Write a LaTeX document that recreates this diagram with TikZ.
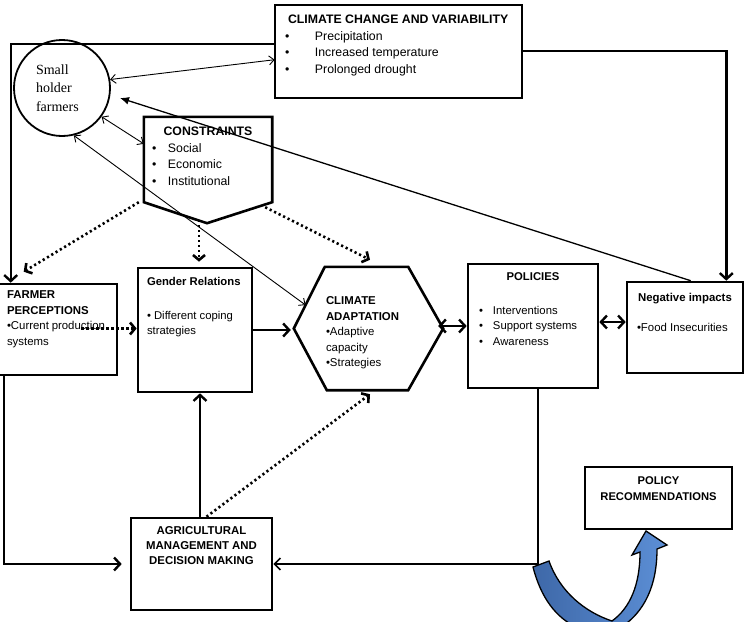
\documentclass[tikz,border=0pt]{standalone}
\usepackage{fontspec}
\setmainfont{Liberation Sans}
\newfontfamily\serifface{Liberation Serif}
\usetikzlibrary{arrows.meta,calc}
\newcommand{\bxt}[4]{\parbox[c][#2][t]{#1}{\vspace*{#3}#4}}
\definecolor{blueD}{RGB}{62,104,168}
\definecolor{blueL}{RGB}{92,143,214}
\begin{document}
\begin{tikzpicture}[x=1pt,y=-1pt,
  box/.style={draw, line width=2.6pt, inner sep=0pt},
  shapeline/.style={draw, line width=2.6pt, line join=miter},
  tarr/.style={line width=0.9pt, {Straight Barb[length=5pt,width=9pt]}-{Straight Barb[length=5pt,width=9pt]}},
  karr/.style={line width=2.4pt, -{Straight Barb[length=6pt,width=13pt]}},
  kboth/.style={line width=2.4pt, {Straight Barb[length=6pt,width=13pt]}-{Straight Barb[length=6pt,width=13pt]}},
  dots/.style={line width=2.6pt, dash pattern=on 2.2pt off 2.8pt, -{Straight Barb[length=5pt,width=12pt]}}]
\useasboundingbox (0,0) rectangle (744,629);
\clip (0,0) rectangle (744,629);

% nodes
\node[box, minimum width=247pt, minimum height=93pt] (cc) at (398.5,51.5)
 {\bxt{227pt}{93pt}{10pt}{\fontsize{12.3}{16.7}\selectfont\hspace*{3pt}\textbf{CLIMATE CHANGE AND VARIABILITY}\\
 \makebox[30pt][l]{•}Precipitation\\
 \makebox[30pt][l]{•}Increased temperature\\
 \makebox[30pt][l]{•}Prolonged drought}};

\node[circle, draw, line width=1.8pt, minimum size=96pt, inner sep=0pt] (circ) at (62,88)
 {\parbox{52pt}{\serifface\fontsize{14}{18.5}\selectfont Small\\ holder\\ farmers}};

\node[inner sep=0pt, minimum width=128pt, minimum height=85pt] (cons) at (208,159.5)
 {\bxt{112pt}{85pt}{10pt}{\fontsize{12.3}{16.7}\selectfont\makebox[\linewidth]{\textbf{CONSTRAINTS}}\\
 \makebox[16pt][l]{•}Social\\
 \makebox[16pt][l]{•}Economic\\
 \makebox[16pt][l]{•}Institutional}};
\draw[shapeline] (cons.south west) -- (cons.north west) -- (cons.north east) -- (cons.south east) -- ($(cons.south)+(-1,21)$) -- cycle;

\node[box, minimum width=122pt, minimum height=91pt] (farmer) at (56,329.5)
 {\bxt{98pt}{91pt}{7pt}{\fontsize{11.4}{15.5}\selectfont\textbf{FARMER}\\ \textbf{PERCEPTIONS}\\ •Current~production\\ systems}};

\node[box, minimum width=114pt, minimum height=124pt] (gender) at (195,330)
 {\bxt{96pt}{124pt}{9pt}{\fontsize{11.3}{15}\selectfont\textbf{Gender~Relations}\\[19pt] •~Different~coping\\ strategies}};

\node[inner sep=0pt, minimum width=149pt, minimum height=123pt] (adapt) at (368.5,328.5)
 {\bxt{85pt}{123pt}{30pt}{\fontsize{11.4}{15.4}\selectfont\textbf{CLIMATE}\\ \textbf{ADAPTATION}\\ •Adaptive\\ capacity\\ •Strategies}};
\coordinate (hexTL) at ($(adapt.north west)+(31,0)$);
\coordinate (hexTR) at ($(adapt.north east)+(-35,0)$);
\coordinate (hexBR) at ($(adapt.south east)+(-35,0)$);
\coordinate (hexBL) at ($(adapt.south west)+(33,0)$);
\draw[shapeline] (adapt.west) -- (hexTL) -- (hexTR) -- (adapt.east) -- (hexBR) -- (hexBL) -- cycle;

\node[box, minimum width=130pt, minimum height=124pt] (pol) at (533,326)
 {\bxt{108pt}{124pt}{9pt}{\fontsize{11.3}{15.5}\selectfont\makebox[\linewidth]{\textbf{POLICIES}}\\[18pt]
 \makebox[14pt][l]{•}Interventions\\
 \makebox[14pt][l]{•}Support systems\\
 \makebox[14pt][l]{•}Awareness}};

\node[box, minimum width=116pt, minimum height=91pt] (neg) at (685,327.5)
 {\bxt{96pt}{91pt}{11pt}{\fontsize{11.4}{15}\selectfont\makebox[\linewidth]{\textbf{Negative impacts}}\\[15pt] •Food Insecurities}};

\node[box, minimum width=141pt, minimum height=92pt] (agri) at (201.5,564)
 {\bxt{125pt}{92pt}{9pt}{\centering\fontsize{11.4}{15}\selectfont\textbf{AGRICULTURAL}\\ \textbf{MANAGEMENT AND}\\ \textbf{DECISION MAKING}\par}};

\node[box, minimum width=147pt, minimum height=62pt] (prec) at (658.5,498)
 {\bxt{131pt}{62pt}{10pt}{\centering\fontsize{11.2}{16}\selectfont\textbf{POLICY}\\ \textbf{RECOMMENDATIONS}\par}};

% connectors
\draw[karr] ($(cc.north west)+(0,40)$) -| ($(farmer.north west)+(17,0)$);
\draw[karr] ($(cc.north east)+(0,47)$) -| ($(neg.north east)+(-18,0)$);
\draw[tarr] (circ.10) -- ($(cc.north west)+(1,56)$);
\draw[tarr] (circ.-36) -- ($(cons.north west)+(0,27)$);
\draw[line width=1.3pt, -{Latex[length=9pt,width=8pt]}] ($(neg.north west)+(65,0)$) -- ($(circ.center)+(58,10)$);
\draw[tarr] (circ.-76) -- ($(adapt.west)!0.38!(hexTL)$);

\draw[dots] ($(cons.south west)+(-5,0)$) -- ($(farmer.north west)+(30,-11)$);
\draw[dots] ($(cons.south)+(-9,18)$) -- ($(gender.north)+(4,-5)$);
\draw[dots] ($(cons.south east)+(-7,5)$) -- ($(adapt.north)+(1.5,-7)$);
\draw[dots] ($(farmer.east)+(-37,-1)$) -- ($(gender.west)+(0,-1.5)$);

\draw[karr] (gender.east) -- ($(adapt.west)+(-3,1.5)$);
\draw[kboth] ($(adapt.east)+(-5,-2.5)$) -- (pol.west);
\draw[kboth] ($(pol.east)+(0,-4)$) -- ($(neg.west)+(0,-5.5)$);

\draw[karr] ($(farmer.south west)+(10,0)$) |- ($(agri.west)+(-8,0)$);
\draw[karr] ($(agri.north)+(-1.5,0)$) -- ($(gender.south)+(5,0)$);
\draw[dots] ($(agri.north)+(5,0)$) -- ($(adapt.south)+(1.5,4)$);
\draw[line width=1.6pt, -{Straight Barb[length=6pt,width=12pt]}] ($(pol.south)+(5,0)$) |- (agri.east);

% blue curved arrow
\begin{scope}
\clip (500,520) rectangle (700,621);
\path[draw=black, line width=1.3pt, line join=miter, left color=blueD, right color=blueL]
  (533,567) .. controls (541,598) and (556,618) .. (578,628)
  -- (620,628) .. controls (645,612) and (657,585) .. (657,549)
  -- (667,545) -- (646,531) -- (632,555) -- (640,552)
  .. controls (640,585) and (630,608) .. (612,621)
  .. controls (585,612) and (560,592) .. (549,561) -- cycle;
\end{scope}
\end{tikzpicture}
\end{document}
